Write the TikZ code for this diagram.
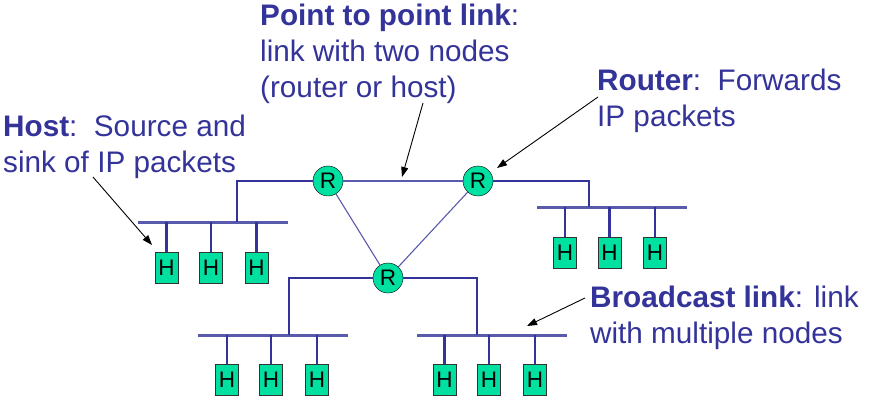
\documentclass[tikz,border=0pt]{standalone}
\usepackage{fontspec}
\setmainfont{Liberation Sans}
\usetikzlibrary{arrows.meta}
\definecolor{netblue}{RGB}{51,51,153}
\definecolor{busblue}{RGB}{90,90,172}
\definecolor{nodegreen}{RGB}{0,224,160}

\begin{document}
\begin{tikzpicture}[x=1pt,y=-1pt,
  router/.style={circle,draw=black,fill=nodegreen,minimum size=30pt,inner sep=0pt,font=\fontsize{22.5}{22.5}\selectfont},
  host/.style={rectangle,draw=black!80,fill=nodegreen,minimum width=23pt,minimum height=31pt,inner sep=0pt,font=\fontsize{22.5}{22.5}\selectfont},
  callout/.style={text=netblue,font=\fontsize{29.7}{36}\selectfont,align=left,inner sep=0pt,anchor=base west},
  bus/.style={busblue,line width=3pt},
  tap/.style={netblue,line width=2.5pt},
  link/.style={busblue,line width=1.1pt},
  pointer/.style={black,line width=0.9pt,-{Triangle[length=10pt,width=7pt]}}]
\useasboundingbox (0,0) rectangle (876,410);

% routers
\node[router] at (328,181) (rA) {R};
\node[router] at (478,181) (rB) {R};
\node[router] at (388,278) (rC) {R};
\draw[link] (rA) -- (rB);
\draw[link] (rA) -- (rC);
\draw[link] (rB) -- (rC);

% broadcast segments
\coordinate (busL) at (138,222);   \coordinate (busLend) at (288,222);
\coordinate (busR) at (537,207);   \coordinate (busRend) at (687,207);
\coordinate (busBL) at (198,335);  \coordinate (busBLend) at (348,335);
\coordinate (busBR) at (417,335);  \coordinate (busBRend) at (567,335);
\draw[bus] (busL) -- (busLend);
\draw[bus] (busR) -- (busRend);
\draw[bus] (busBL) -- (busBLend);
\draw[bus] (busBR) -- (busBRend);

\coordinate (tapL) at (237,222);
\coordinate (tapR) at (589,207);
\coordinate (tapBL) at (289,335);
\coordinate (tapBR) at (477,335);
\draw[tap] (rA.west) -| (tapL);
\draw[tap] (rB.east) -| (tapR);
\draw[tap] (rC.west) -| (tapBL);
\draw[tap] (rC.east) -| (tapBR);

% hosts
\node[host] at (166.5,267.5) (h1) {H};
\node[host] at (211,267.5) (h2) {H};
\node[host] at (256.5,267.5) (h3) {H};
\node[host] at (565,252.5) (h4) {H};
\node[host] at (609.5,252.5) (h5) {H};
\node[host] at (655,252.5) (h6) {H};
\node[host] at (227,380) (h7) {H};
\node[host] at (271,380) (h8) {H};
\node[host] at (317,380) (h9) {H};
\node[host] at (444.5,380) (h10) {H};
\node[host] at (489,380) (h11) {H};
\node[host] at (535,380) (h12) {H};
\foreach \h in {h1,h2,h3} \draw[tap] (\h.north) -- (\h.north |- busL);
\foreach \h in {h4,h5,h6} \draw[tap] (\h.north) -- (\h.north |- busR);
\foreach \h in {h7,h8,h9} \draw[tap] (\h.north) -- (\h.north |- busBL);
\foreach \h in {h10,h11,h12} \draw[tap] (\h.north) -- (\h.north |- busBR);

% labels (base = last line)
\node[callout] at (260,97) (ptplbl) {\textbf{Point to point link}:\\link with two nodes\\(router or host)};
\node[callout] at (3,172) (hostlbl) {\textbf{Host}:~~Source and\\sink of IP packets};
\node[callout] at (597,126) (rtrlbl) {\textbf{Router}:~~Forwards\\IP packets};
\node[callout] at (590,343) (bcastlbl) {\textbf{Broadcast link}: link\\with multiple nodes};

\coordinate (hostfrom) at (93,177);   \coordinate (hostto) at (152,245);
\coordinate (ptpfrom) at (423,103);   \coordinate (ptpto) at (402,177);
\coordinate (rtrfrom) at (598,97);    \coordinate (rtrto) at (497,168);
\coordinate (bcastfrom) at (585,298); \coordinate (bcastto) at (527,326);
\draw[pointer] (hostfrom) -- (hostto);
\draw[pointer] (ptpfrom) -- (ptpto);
\draw[pointer] (rtrfrom) -- (rtrto);
\draw[pointer] (bcastfrom) -- (bcastto);
\end{tikzpicture}
\end{document}
